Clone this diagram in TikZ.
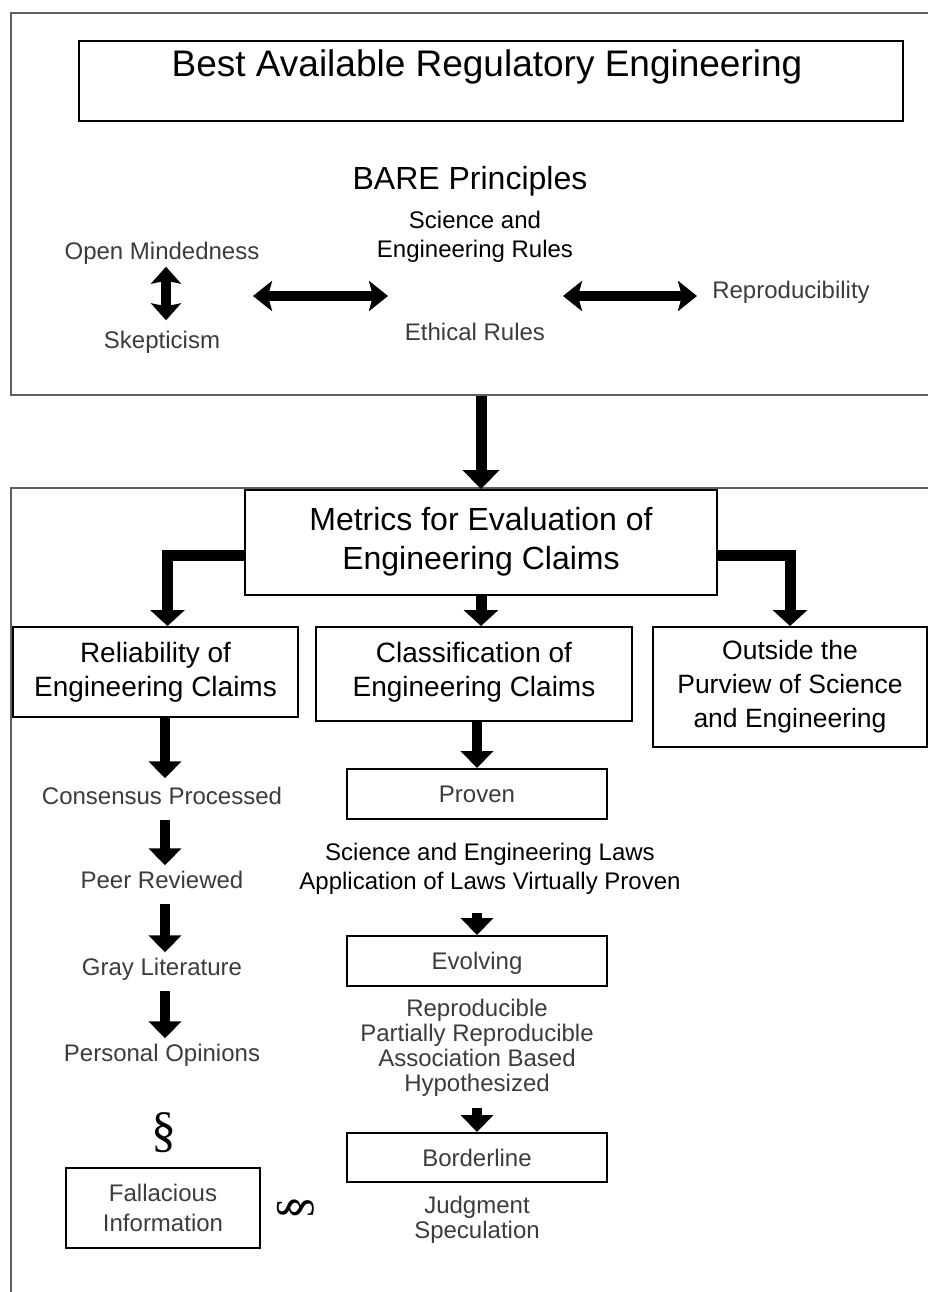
\documentclass[tikz,border=0pt]{standalone}
\usepackage{fontspec}
\setmainfont{Liberation Sans}
\newfontfamily\serifsym{Liberation Serif}
\usetikzlibrary{arrows.meta}
\definecolor{txtgray}{RGB}{60,60,60}
\definecolor{framegray}{RGB}{95,95,95}
\begin{document}
\begin{tikzpicture}[x=1pt,y=-1pt,
  box/.style={draw=black, line width=2pt, rectangle, inner sep=0pt, align=center, text depth=0pt},
  frame/.style={draw=framegray, line width=2pt, rectangle, inner sep=0pt},
  txt/.style={inner sep=0pt, align=center, text depth=0pt},
  fs24/.style={font=\fontsize{24}{#1}\selectfont, text height=17pt},
  fs24/.default=25,
  fs28/.style={font=\fontsize{28}{34}\selectfont, text height=20pt},
  fs26/.style={font=\fontsize{26.5}{34}\selectfont, text height=19pt},
  fs32/.style={font=\fontsize{32}{39}\selectfont, text height=23pt},
  gr/.style={text=txtgray},
  darr/.style={line width=10pt, -{Triangle[width=32pt,length=17pt]}},
  bigarr/.style={line width=11pt, -{Triangle[width=36pt,length=19pt]}},
  branch/.style={line width=11pt, line join=miter, -{Triangle[width=34pt,length=16pt]}},
  dbl/.style={line width=10pt, {Stealth[width=30pt,length=19pt,inset=4pt]}-{Stealth[width=30pt,length=19pt,inset=4pt]}},
  sdbl/.style={line width=10pt, {Stealth[width=30pt,length=17pt,inset=3pt]}-{Stealth[width=30pt,length=17pt,inset=3pt]}},
]
\clip (0,0) rectangle (928,1292);
\fill[white] (0,0) rectangle (928,1292);

% frames
\node[frame, minimum width=940pt, minimum height=382pt, anchor=north west] (frame1) at (10,12) {};
\node[frame, minimum width=940pt, minimum height=840pt, anchor=north west] (frame2) at (10,487) {};

% top section
\node[box, minimum width=824pt, minimum height=80pt, anchor=north west] (titlebox) at (78,40) {};
\node[txt, font=\fontsize{37}{44}\selectfont, text height=26.5pt] (title) at (487,63) {Best Available Regulatory Engineering};
\node[txt, fs32] (bare) at (470,178) {BARE Principles};
\node[txt, fs24=29, text height=46pt] (sci) at (475,234.5) {Science and\\Engineering Rules};
\node[txt, fs24, gr] (open) at (162,251) {Open Mindedness};
\node[txt, fs24, gr] (skep) at (162,340) {Skepticism};
\node[txt, fs24, gr] (ethical) at (475,332) {Ethical Rules};
\node[txt, fs24, gr] (repro) at (791,290) {Reproducibility};
\coordinate (hl1) at (253,296);
\coordinate (hl2) at (388,296);
\coordinate (hr1) at (563,296);
\coordinate (hr2) at (697,296);
\draw[sdbl] ([xshift=4pt,yshift=-7pt]open.south) -- ([xshift=4pt,yshift=11pt]skep.north);
\draw[dbl] (hl1) -- (hl2);
\draw[dbl] (hr1) -- (hr2);

% lower section
\node[box, fs32, text height=62pt, text depth=8pt, minimum width=472pt, minimum height=105pt] (metrics) at (481,542.5) {Metrics for Evaluation of\\Engineering Claims};
\node[box, fs28, text height=54pt, text depth=6pt, minimum width=285pt, minimum height=90pt] (rel) at (155.5,672) {Reliability of\\Engineering Claims};
\node[box, fs28, text height=54pt, text depth=10pt, minimum width=316pt, minimum height=94pt] (class) at (474,674) {Classification of\\Engineering Claims};
\node[box, fs26, text height=87pt, text depth=6pt, minimum width=274pt, minimum height=120pt] (out) at (790,687) {Outside the\\Purview of Science\\and Engineering};

\draw[bigarr] (frame1.south -| metrics.north) -- (metrics.north);
\draw[branch] ([yshift=-13pt]metrics.west) -| ([xshift=12pt]rel.north);
\draw[branch] ([yshift=-13pt]metrics.east) -| (out.north);
\draw[branch] (metrics.south) -- (metrics.south |- class.north);

% left column
\node[txt, fs24, gr] (cons) at (162,796) {Consensus Processed};
\node[txt, fs24, gr] (peer) at (162,880) {Peer Reviewed};
\node[txt, fs24, gr] (grayl) at (162,967) {Gray Literature};
\node[txt, fs24, gr] (pers) at (162,1053) {Personal Opinions};
\node[txt, font=\serifsym\fontsize{50}{50}\selectfont] (sec1) at (164,1130) {§};
\node[box, fs24=30, text height=47pt, gr, minimum width=194pt, minimum height=80pt] (fall) at (163,1208) {Fallacious\\Information};
\node[txt, rotate=90, font=\serifsym\fontsize{46}{46}\selectfont] (sec2) at (293,1208) {§};

\draw[darr] ([xshift=9.5pt]rel.south) -- ([xshift=3pt,yshift=9pt]cons.north);
\draw[darr] ([xshift=3pt,yshift=-15pt]cons.south) -- ([xshift=3pt,yshift=6pt]peer.north);
\draw[darr] ([xshift=3pt,yshift=-15pt]peer.south) -- ([xshift=3pt,yshift=6pt]grayl.north);
\draw[darr] ([xshift=3pt,yshift=-15pt]grayl.south) -- ([xshift=3pt,yshift=6pt]pers.north);

% middle column
\node[box, fs24, gr, minimum width=260pt, minimum height=50pt] (proven) at (477,794) {Proven};
\node[txt, fs24=29, text height=46pt] (laws) at (490,866) {Science and Engineering Laws\\Application of Laws Virtually Proven};
\node[box, fs24, gr, minimum width=260pt, minimum height=50pt] (evolving) at (477,961) {Evolving};
\node[txt, fs24, text height=92pt, gr] (list) at (477,1045.5) {Reproducible\\Partially Reproducible\\Association Based\\Hypothesized};
\node[box, fs24, gr, minimum width=260pt, minimum height=49pt] (border) at (477,1157.5) {Borderline};
\node[txt, fs24, text height=42pt, gr] (judg) at (477,1217.5) {Judgment\\Speculation};

\draw[darr] (proven.north |- class.south) -- (proven.north);
\draw[darr] ([yshift=-24pt]laws.south -| evolving.north) -- (evolving.north);
\draw[darr] ([yshift=-16pt]list.south -| border.north) -- (border.north);
\end{tikzpicture}
\end{document}
